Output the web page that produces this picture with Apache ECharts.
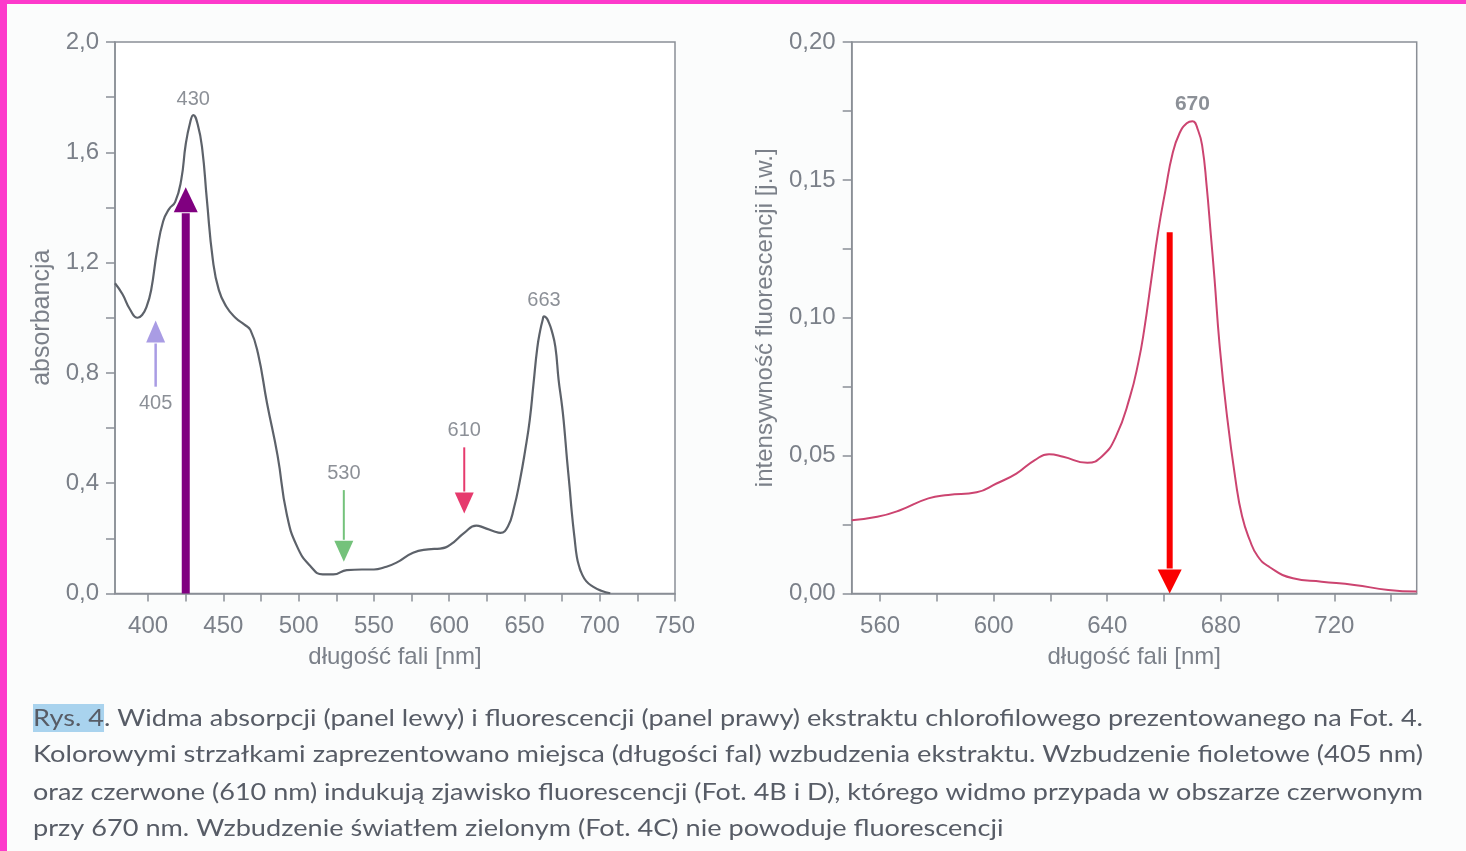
<!DOCTYPE html>
<html>
<head>
<meta charset="utf-8">
<script src="https://cdn.jsdelivr.net/npm/echarts@6.0.0/dist/echarts.min.js"></script>
<style>
  html, body { margin: 0; padding: 0; background: #fbfcfc; }
  #chart { width: 1466px; height: 851px; }
</style>
</head>
<body>
<div id="chart"></div>
<script>
// Absorption spectrum of the chlorophyll extract (left panel)
const absWavelength = [378, 383, 388, 393, 396, 399, 402, 406, 410, 414, 418, 422, 425, 428, 430, 433, 436, 439, 443, 447,
  452, 458, 464, 468, 473, 479, 486, 492, 499, 508, 516, 523, 532, 542, 550, 557, 565, 576, 586, 594,
  601, 610, 618, 623, 630, 634, 639, 643, 647, 650.5, 653.5, 656, 658.5, 660.5, 662, 663, 664.5, 666, 668, 670.5,
  672.7, 674.5, 676, 678.3, 680, 681.5, 683.3, 684.8, 686.5, 688, 691, 695.5, 701, 707];
const absValue = [1.125, 1.085, 1.03, 1.0, 1.01, 1.04, 1.10, 1.245, 1.35, 1.395, 1.42, 1.50, 1.63, 1.71, 1.735, 1.70, 1.61, 1.43, 1.21, 1.10,
  1.04, 1.0, 0.975, 0.955, 0.87, 0.69, 0.50, 0.29, 0.17, 0.098, 0.069, 0.069, 0.085, 0.087, 0.087, 0.095, 0.112, 0.148, 0.160, 0.163,
  0.178, 0.22, 0.246, 0.239, 0.225, 0.22, 0.243, 0.31, 0.411, 0.52, 0.629, 0.76, 0.89, 0.955, 0.99, 1.005, 1.0, 0.985, 0.955, 0.895,
  0.774, 0.70, 0.629, 0.484, 0.385, 0.291, 0.20, 0.133, 0.095, 0.073, 0.045, 0.025, 0.01, 0.001];

// Fluorescence emission spectrum (right panel)
const fluWavelength = [550, 559, 567, 577, 584, 594, 601, 608, 614.5, 619.5, 624.5, 633, 638, 643, 648, 651, 653, 655.5, 658, 660.5,
  663, 665.5, 668, 670, 672, 673.5, 675, 676.5, 677.8, 679.5, 682, 685.2, 687.5, 690.2, 693, 697, 705.4, 715.5, 727, 739, 749];
const fluValue = [0.0266, 0.0278, 0.0302, 0.0345, 0.0357, 0.0367, 0.0399, 0.0435, 0.0484, 0.0505, 0.0496, 0.0474, 0.0496, 0.0568, 0.0713, 0.084, 0.0955, 0.1136, 0.1317, 0.1462,
  0.1595, 0.167, 0.1705, 0.1713, 0.168, 0.162, 0.148, 0.130, 0.114, 0.091, 0.066, 0.0411, 0.028, 0.0194, 0.0135, 0.0097, 0.0055, 0.0043, 0.0031, 0.0013, 0.0007];

// Labelled absorption / emission maxima
const absPeakNm = [430, 663];
const fluPeakNm = [670];

// Excitation arrows: wavelength, tail value, tip value
const absArrowNm = [425, 405, 530, 610];
const absArrowFrom = [0, 0.75, 0.375, 0.53];
const absArrowTo = [1.473, 0.99, 0.115, 0.29];
const absArrowLabel = [null, '405', '530', '610'];
const fluArrowNm = [662];
const fluArrowFrom = [0.131];
const fluArrowTo = [0];

// Axis ticks and labels
const absXLabels = [400, 450, 500, 550, 600, 650, 700, 750];
const absXTicks = [400, 425, 450, 475, 500, 525, 550, 575, 600, 625, 650, 675, 700, 725, 750];
const absYLabels = [0, 0.4, 0.8, 1.2, 1.6, 2.0];
const absYTicks = [0, 0.2, 0.4, 0.6, 0.8, 1.0, 1.2, 1.4, 1.6, 1.8, 2.0];
const fluXLabels = [560, 600, 640, 680, 720];
const fluXTicks = [560, 580, 600, 620, 640, 660, 680, 700, 720, 740];
const fluYLabels = [0, 0.05, 0.10, 0.15, 0.20];
const fluYTicks = [0, 0.025, 0.05, 0.075, 0.10, 0.125, 0.15, 0.175, 0.20];

// Caption lines
const captionLines = [
  'Rys. 4. Widma absorpcji (panel lewy) i fluorescencji (panel prawy) ekstraktu chlorofilowego prezentowanego na Fot. 4.',
  'Kolorowymi strzałkami zaprezentowano miejsca (długości fal) wzbudzenia ekstraktu. Wzbudzenie fioletowe (405 nm)',
  'oraz czerwone (610 nm) indukują zjawisko fluorescencji (Fot. 4B i D), którego widmo przypada w obszarze czerwonym',
  'przy 670 nm. Wzbudzenie światłem zielonym (Fot. 4C) nie powoduje fluorescencji'
];

// ---------- styles ----------
const AXIS_FONT = "'Liberation Sans', Arial, sans-serif";
const CAPTION_FONT = "Lato, 'Liberation Sans', sans-serif";
const AXIS_COLOR = '#8a8f96';
const TEXT_COLOR = '#7b8089';

const absArrowStyle = [
  { color: '#800080', shaft: 8, headW: 24, headL: 25 },
  { color: '#a99ce4', shaft: 2.5, headW: 19, headL: 22 },
  { color: '#74c27b', shaft: 2, headW: 19, headL: 21 },
  { color: '#e63a6d', shaft: 2, headW: 19, headL: 21 }
];
const fluArrowStyle = [
  { color: '#fa0000', shaft: 6, headW: 24, headL: 24 }
];

function pairs(xs, ys) { return xs.map((x, i) => [x, ys[i]]); }
function peakPoints(nms, xs, ys) { return nms.map(nm => [nm, ys[xs.indexOf(nm)]]); }

function arrowRenderer(styles) {
  return function (params, api) {
    const s = styles[params.dataIndex];
    const a = api.coord([api.value(0), api.value(1)]);
    const b = api.coord([api.value(0), api.value(2)]);
    const dir = b[1] < a[1] ? -1 : 1;
    const baseY = b[1] - dir * s.headL;
    const y0 = Math.min(a[1], baseY - dir);
    const y1 = Math.max(a[1], baseY - dir);
    return {
      type: 'group',
      children: [
        { type: 'rect', shape: { x: a[0] - s.shaft / 2, y: y0, width: s.shaft, height: y1 - y0 }, style: { fill: s.color } },
        { type: 'polygon', shape: { points: [[b[0], b[1]], [b[0] - s.headW / 2, baseY], [b[0] + s.headW / 2, baseY]] }, style: { fill: s.color } }
      ]
    };
  };
}

const comma = d => v => v.toFixed(d).replace('.', ',');

function xAxis(gridIndex, min, max, labels, ticks) {
  return {
    type: 'value', gridIndex, min, max,
    name: 'długość fali [nm]', nameLocation: 'middle', nameGap: 52,
    nameTextStyle: { fontFamily: AXIS_FONT, fontSize: 24, color: TEXT_COLOR },
    axisLine: { show: true, lineStyle: { color: AXIS_COLOR, width: 1.5 } },
    axisTick: { show: true, length: 8, customValues: ticks, lineStyle: { color: AXIS_COLOR, width: 1.5 } },
    axisLabel: { customValues: labels, margin: 21, fontFamily: AXIS_FONT, fontSize: 24, color: TEXT_COLOR, formatter: v => String(v) },
    splitLine: { show: false }
  };
}
function yAxis(gridIndex, min, max, labels, ticks, name, gap, fontSize, digits) {
  return {
    type: 'value', gridIndex, min, max,
    name, nameLocation: 'middle', nameGap: gap,
    nameTextStyle: { fontFamily: AXIS_FONT, fontSize, color: TEXT_COLOR },
    axisLine: { show: true, lineStyle: { color: AXIS_COLOR, width: 1.5 } },
    axisTick: { show: true, length: 9, customValues: ticks, lineStyle: { color: AXIS_COLOR, width: 1.5 } },
    axisLabel: { customValues: labels, margin: 16, fontFamily: AXIS_FONT, fontSize: 24, color: TEXT_COLOR, formatter: comma(digits) },
    splitLine: { show: false }
  };
}

const peakLabel = (size, weight) => ({
  show: true, position: 'top', distance: 6,
  formatter: p => String(p.value[0]),
  fontFamily: AXIS_FONT, fontSize: size, fontWeight: weight, color: '#6f747d'
});

const chart = echarts.init(document.getElementById('chart'), null, { renderer: 'canvas' });

// caption: each line is stretched to the column width (justified look)
const measureCtx = document.createElement('canvas').getContext('2d');
const CAPTION_SIZE = 24;
measureCtx.font = CAPTION_SIZE + 'px ' + CAPTION_FONT;
const columnWidth = 1390;
const lineScales = captionLines.map(t => columnWidth / measureCtx.measureText(t).width);
const lastScale = (lineScales[0] + lineScales[1] + lineScales[2]) / 3;
const captionY = [718, 754, 792, 828];
const captionElements = captionLines.map((t, i) => {
  const text = i === 0 ? '{hl|Rys. 4}' + t.slice(6) : t;
  return {
    type: 'text', x: 33, y: captionY[i], scaleX: i === 3 ? lastScale : lineScales[i], silent: true,
    style: {
      text, font: CAPTION_SIZE + 'px ' + CAPTION_FONT, fill: '#575c66',
      textAlign: 'left', textVerticalAlign: 'middle', align: 'left', verticalAlign: 'middle',
      rich: { hl: { backgroundColor: '#a9d3ee', fill: '#575c66', font: CAPTION_SIZE + 'px ' + CAPTION_FONT, padding: [2, 0, 2, 0] } }
    }
  };
});

chart.setOption({
  animation: false,
  backgroundColor: '#fbfcfc',
  grid: [
    { left: 115, top: 42, width: 560, height: 551.5, show: true, backgroundColor: '#ffffff', borderColor: AXIS_COLOR, borderWidth: 1.5 },
    { left: 851.7, top: 42, width: 565, height: 551.5, show: true, backgroundColor: '#ffffff', borderColor: AXIS_COLOR, borderWidth: 1.5 }
  ],
  xAxis: [
    xAxis(0, 378, 750, absXLabels, absXTicks),
    xAxis(1, 550, 749, fluXLabels, fluXTicks)
  ],
  yAxis: [
    yAxis(0, 0, 2.0, absYLabels, absYTicks, 'absorbancja', 60, 25, 1),
    yAxis(1, 0, 0.2, fluYLabels, fluYTicks, 'intensywność fluorescencji [j.w.]', 74, 24, 2)
  ],
  graphic: [
    { type: 'rect', shape: { x: 0, y: 0, width: 7, height: 851 }, style: { fill: '#fd3acb' }, silent: true },
    { type: 'rect', shape: { x: 0, y: 0, width: 1466, height: 4 }, style: { fill: '#fd3acb' }, silent: true }
  ].concat(captionElements),
  series: [
    {
      type: 'line', xAxisIndex: 0, yAxisIndex: 0, data: pairs(absWavelength, absValue),
      smooth: 0.5, showSymbol: false, silent: true,
      lineStyle: { color: '#5d626a', width: 2.2 }, z: 2
    },
    {
      type: 'line', xAxisIndex: 1, yAxisIndex: 1, data: pairs(fluWavelength, fluValue),
      smooth: 0.5, showSymbol: false, silent: true,
      lineStyle: { color: '#cc4470', width: 2 }, z: 2
    },
    {
      type: 'custom', xAxisIndex: 0, yAxisIndex: 0, silent: true, z: 5,
      data: absArrowNm.map((nm, i) => [nm, absArrowFrom[i], absArrowTo[i]]),
      renderItem: arrowRenderer(absArrowStyle)
    },
    {
      type: 'custom', xAxisIndex: 1, yAxisIndex: 1, silent: true, z: 5,
      data: fluArrowNm.map((nm, i) => [nm, fluArrowFrom[i], fluArrowTo[i]]),
      renderItem: arrowRenderer(fluArrowStyle)
    },
    {
      type: 'scatter', xAxisIndex: 0, yAxisIndex: 0, symbolSize: 0, silent: true, z: 6,
      data: peakPoints(absPeakNm, absWavelength, absValue),
      label: peakLabel(20, 'normal')
    },
    {
      type: 'scatter', xAxisIndex: 1, yAxisIndex: 1, symbolSize: 0, silent: true, z: 6,
      data: peakPoints(fluPeakNm, fluWavelength, fluValue),
      label: peakLabel(21, 'bold')
    },
    {
      type: 'scatter', xAxisIndex: 0, yAxisIndex: 0, symbolSize: 0, silent: true, z: 6,
      data: absArrowNm.map((nm, i) => ({
        value: [nm, absArrowFrom[i]],
        label: {
          show: absArrowLabel[i] !== null,
          position: absArrowTo[i] > absArrowFrom[i] ? 'bottom' : 'top',
          distance: 7,
          formatter: () => absArrowLabel[i]
        }
      })),
      label: { fontFamily: AXIS_FONT, fontSize: 20, color: '#6f747d' }
    }
  ]
});
</script>
</body>
</html>
